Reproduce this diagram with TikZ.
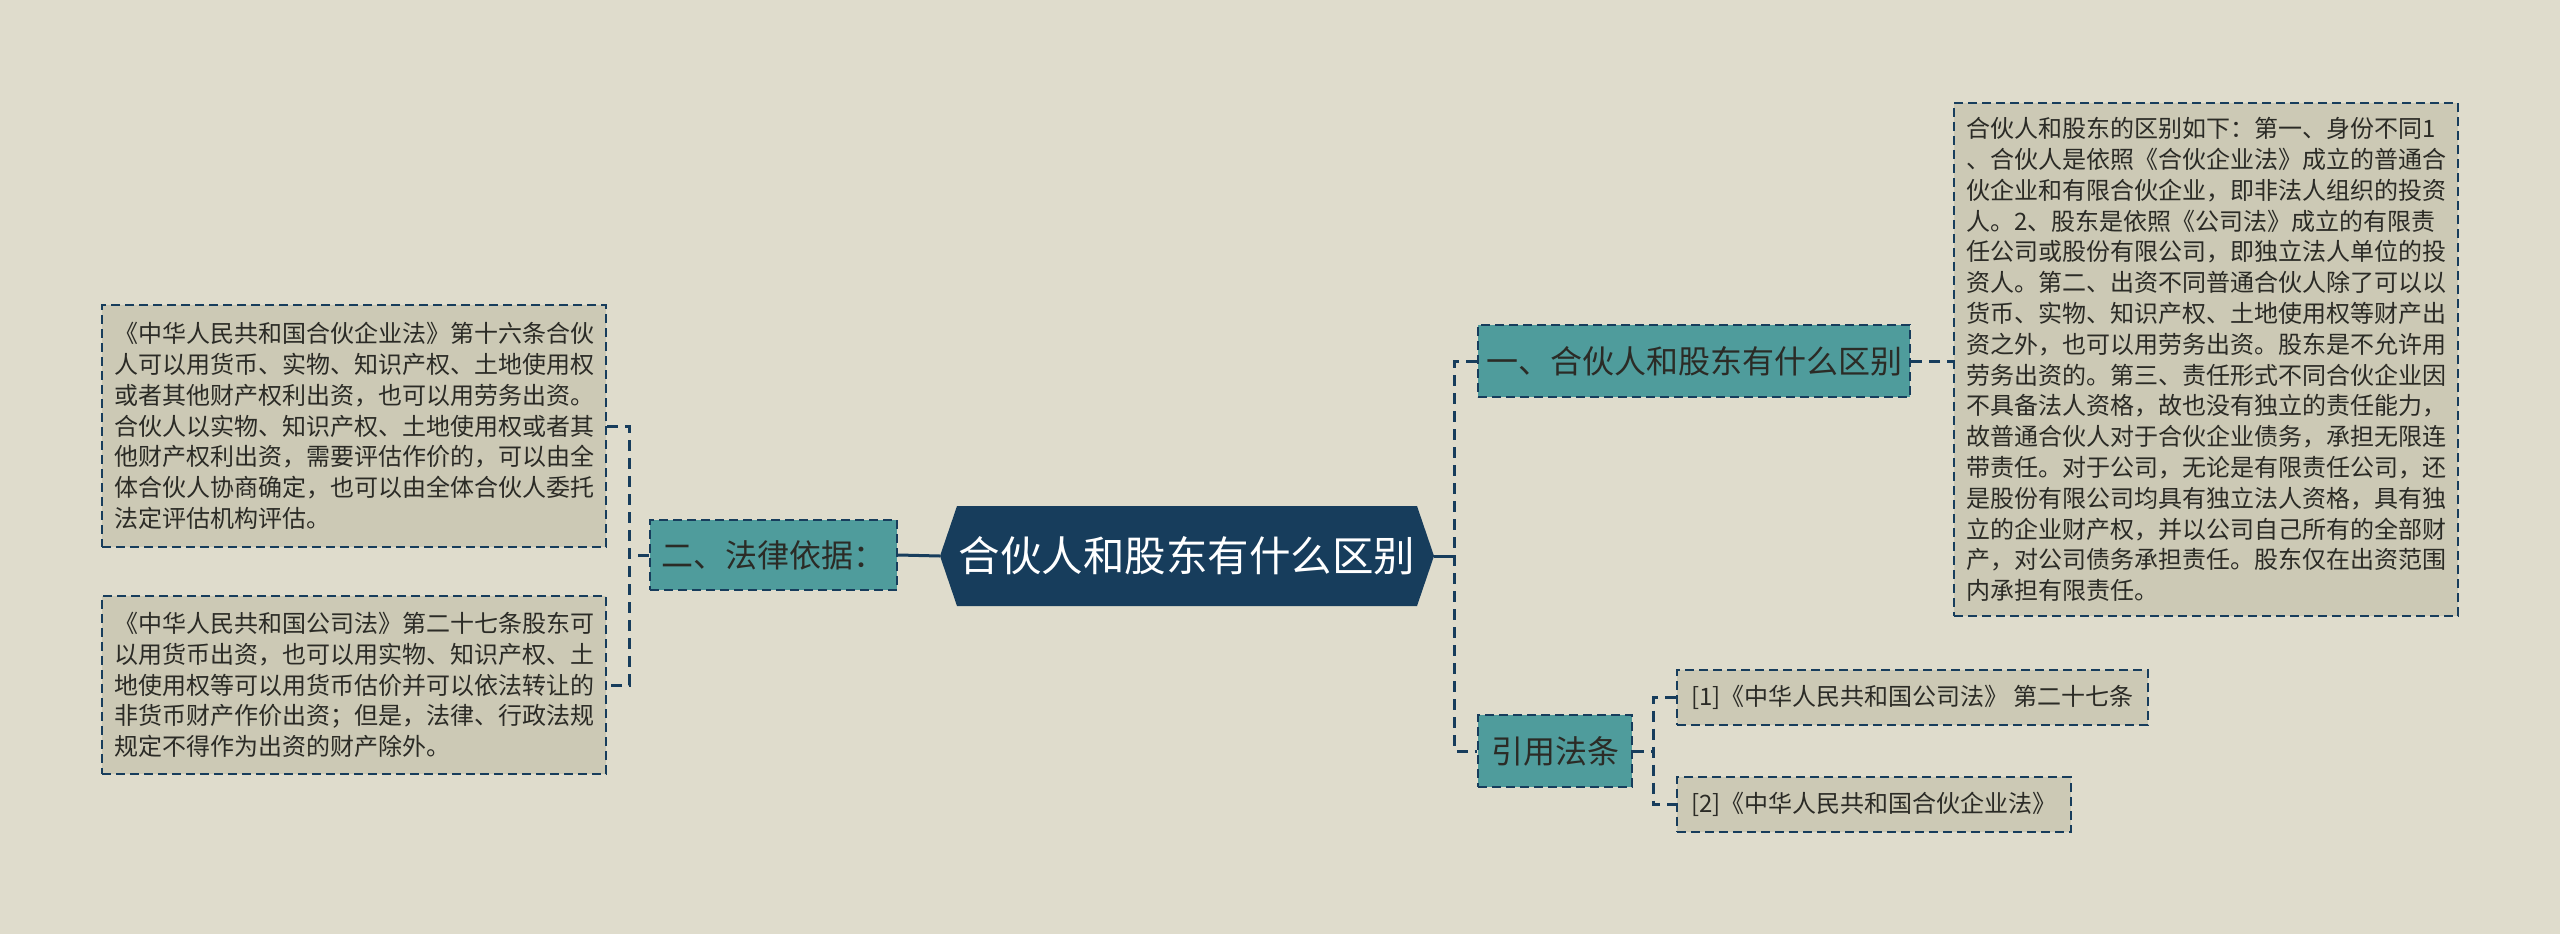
\documentclass[tikz,border=0pt]{standalone}
\usepackage{fontspec}
\setmainfont{Noto Sans CJK SC}
\usepackage{tikz}
\definecolor{fondobeige}{rgb}{0.875,0.863,0.800}
\definecolor{azulnoche}{rgb}{0.09,0.24,0.36}
\definecolor{verdeazul}{rgb}{0.31,0.61,0.61}
\definecolor{cajagris}{rgb}{0.80,0.79,0.71}
\definecolor{textoosc}{rgb}{0.17,0.17,0.15}
\tikzset{
  raiz/.style={
    rectangle,
    fill=fondobeige,
    path picture={
      \fill[azulnoche] (path picture bounding box.west)
        -- ([xshift=17pt]path picture bounding box.north west)
        -- ([xshift=-17pt]path picture bounding box.north east)
        -- (path picture bounding box.east)
        -- ([xshift=-17pt]path picture bounding box.south east)
        -- ([xshift=17pt]path picture bounding box.south west)
        -- cycle;
    },
    text=white,
    minimum width=494pt,
    minimum height=100pt,
    inner sep=0pt,
    font=\fontsize{41.5}{48}\selectfont
  },
  rama/.style={
    draw=azulnoche,
    line width=2.2pt,
    dash pattern=on 9pt off 5pt,
    fill=verdeazul,
    text=textoosc,
    minimum height=72pt,
    inner sep=0pt,
    font=\fontsize{32}{38}\selectfont
  },
  hoja/.style={
    draw=azulnoche,
    line width=2pt,
    dash pattern=on 9pt off 5pt,
    fill=cajagris,
    text=textoosc,
    align=left,
    inner xsep=12pt,
    inner ysep=10pt,
    font=\fontsize{24}{30.8}\selectfont
  },
  cita/.style={
    hoja,
    anchor=west,
    minimum height=55pt,
    inner xsep=14pt,
    inner ysep=0pt
  },
  linea/.style={
    azulnoche,
    line width=3pt
  },
  guion/.style={
    azulnoche,
    line width=3pt,
    dash pattern=on 11pt off 7pt
  }
}

\begin{document}
\begin{tikzpicture}[x=1pt,y=-1pt]
\fill[fondobeige] (0,0) rectangle (2560,934);
\useasboundingbox (0,0) rectangle (2560,934);

\node[raiz] (centro) at (1187,556) {合伙人和股东有什么区别};
\node[rama,minimum width=432pt] (dif) at (1694,361) {一、合伙人和股东有什么区别};
\node[rama,minimum width=247pt,minimum height=70pt] (base) at (773.5,555) {二、法律依据：};
\node[rama,minimum width=154pt] (ley) at (1555,751) {引用法条};

\node[hoja,minimum width=504pt,minimum height=513pt] (detalle) at (2206,359.5) {合伙人和股东的区别如下：第一、身份不同1\\
、合伙人是依照《合伙企业法》成立的普通合\\
伙企业和有限合伙企业，即非法人组织的投资\\
人。2、股东是依照《公司法》成立的有限责\\
任公司或股份有限公司，即独立法人单位的投\\
资人。第二、出资不同普通合伙人除了可以以\\
货币、实物、知识产权、土地使用权等财产出\\
资之外，也可以用劳务出资。股东是不允许用\\
劳务出资的。第三、责任形式不同合伙企业因\\
不具备法人资格，故也没有独立的责任能力，\\
故普通合伙人对于合伙企业债务，承担无限连\\
带责任。对于公司，无论是有限责任公司，还\\
是股份有限公司均具有独立法人资格，具有独\\
立的企业财产权，并以公司自己所有的全部财\\
产，对公司债务承担责任。股东仅在出资范围\\
内承担有限责任。};

\node[hoja,minimum width=504pt,minimum height=242pt] (socios) at (354,426) {《中华人民共和国合伙企业法》第十六条合伙\\
人可以用货币、实物、知识产权、土地使用权\\
或者其他财产权利出资，也可以用劳务出资。\\
合伙人以实物、知识产权、土地使用权或者其\\
他财产权利出资，需要评估作价的，可以由全\\
体合伙人协商确定，也可以由全体合伙人委托\\
法定评估机构评估。};

\node[hoja,minimum width=504pt,minimum height=178pt] (sociedad) at (354,685) {《中华人民共和国公司法》第二十七条股东可\\
以用货币出资，也可以用实物、知识产权、土\\
地使用权等可以用货币估价并可以依法转让的\\
非货币财产作价出资；但是，法律、行政法规\\
规定不得作为出资的财产除外。};

\node[cita] (cita1) at (1676,697.5) {[1]《中华人民共和国公司法》 第二十七条};
\node[cita] (cita2) at (1676,804.5) {[2]《中华人民共和国合伙企业法》};

% lado derecho
\coordinate (nudo) at (1456,556);
\draw[linea] (centro.east) -- (nudo);
\draw[guion] (dif.west) -- ++(-22,0) |- (ley.west);
\draw[guion] (dif.east) -- (dif.east -| detalle.west);
\coordinate (bifurca) at (1653,751);
\draw[guion] (ley.east) -- (bifurca);
\draw[guion] (cita1.west) -- ++(-23,0) |- (cita2.west);

% lado izquierdo
\draw[linea] (centro.west) -- (base.east);
\coordinate (nudoiz) at (628,555);
\draw[guion] (base.west) -- (nudoiz);
\draw[guion] (socios.east) -- ++(22,0) |- (sociedad.east);
\end{tikzpicture}
\end{document}
